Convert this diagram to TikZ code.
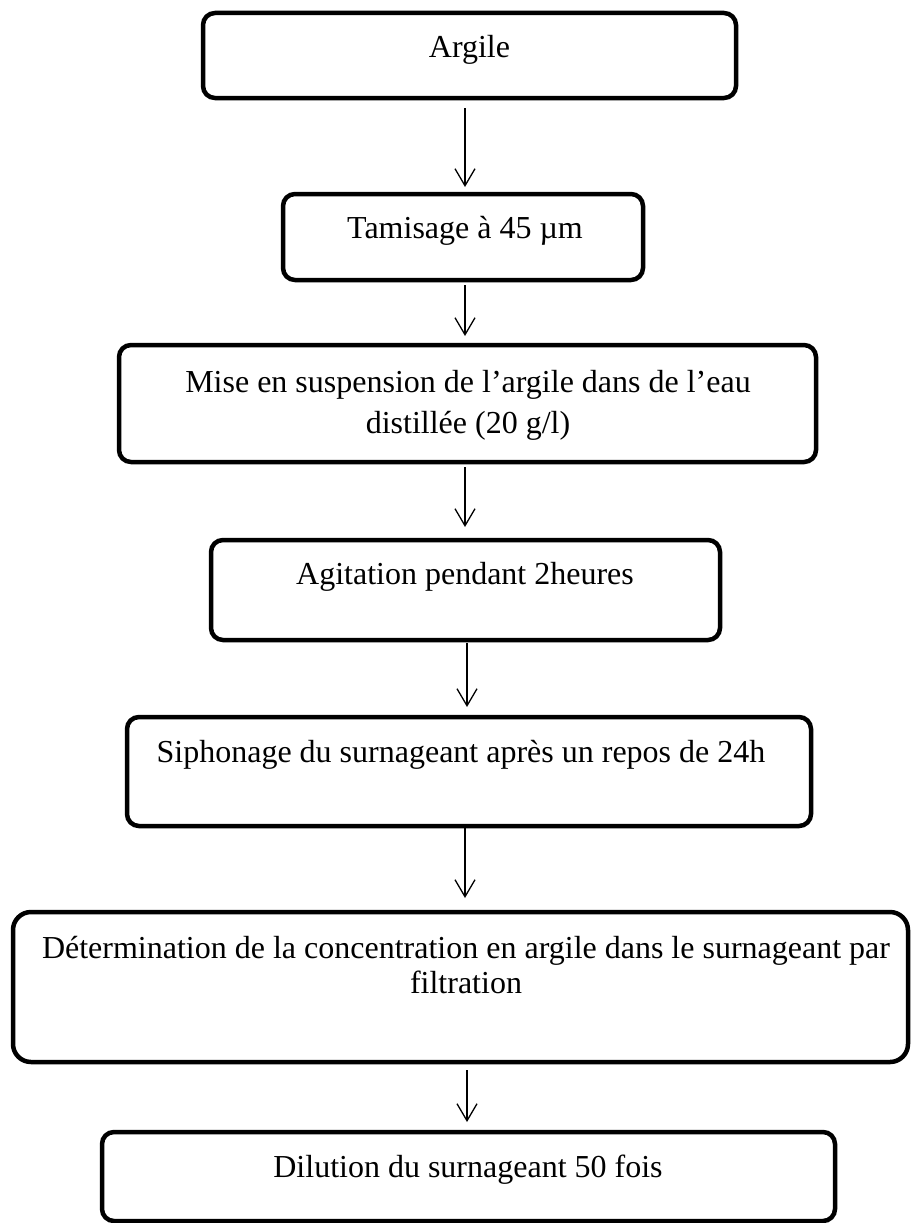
\documentclass[tikz,border=0pt]{standalone}
\usepackage{fontspec}
\setmainfont{Liberation Serif}
\usetikzlibrary{arrows.meta}
\begin{document}
\begin{tikzpicture}[x=1pt,y=-1pt,
  box/.style={draw=black,line width=4.5pt,rounded corners=12pt,inner sep=0pt,outer sep=0pt},
  lbl/.style={inner sep=0pt,anchor=base,align=center,font=\fontsize{32}{38}\selectfont},
  arr/.style={line width=1.3pt,-{Straight Barb[length=17pt,width=20pt]}}]
\useasboundingbox (0,0) rectangle (911,1223);
% boxes
\node[box,minimum width=533pt,minimum height=85pt] (b1) at (469.5,55.5) {};
\node[box,minimum width=360pt,minimum height=86pt] (b2) at (463,237) {};
\node[box,minimum width=697pt,minimum height=117pt] (b3) at (467.5,403.5) {};
\node[box,minimum width=509pt,minimum height=100pt] (b4) at (465.5,590) {};
\node[box,minimum width=684pt,minimum height=109pt] (b5) at (469,771.5) {};
\node[box,minimum width=895pt,minimum height=150pt,rounded corners=18pt] (b6) at (460.5,987) {};
\node[box,minimum width=733pt,minimum height=89pt] (b7) at (468.5,1176.5) {};
% texts
\node[lbl] (t1) at (469.5,58) {Argile};
\node[lbl] (t2) at (465,238) {Tamisage à 45 µm};
\node[lbl] (t3) at (468,433) {Mise en suspension de l’argile dans de l’eau\\[3pt] distillée (20 g/l)};
\node[lbl] (t4) at (465,584) {Agitation pendant 2heures};
\node[lbl] (t5) at (461,762) {Siphonage du surnageant après un repos de 24h};
\node[lbl] (t6) at (466,993) {Détermination de la concentration en argile dans le surnageant par\\[-3pt] filtration};
\node[lbl] (t7) at (468,1177) {Dilution du surnageant 50 fois};
% arrow column
\coordinate (c1) at (465,0);
\coordinate (c2) at (467,0);
\draw[arr,shorten <=10pt,shorten >=7pt] (b1.south -| c1) -- (b2.north -| c1);
\draw[arr,shorten <=5pt,shorten >=9pt] (b2.south -| c1) -- (b3.north -| c1);
\draw[arr,shorten <=5pt,shorten >=13pt] (b3.south -| c1) -- (b4.north -| c1);
\draw[arr,shorten <=3pt,shorten >=10pt] (b4.south -| c2) -- (b5.north -| c2);
\draw[arr,shorten <=0pt,shorten >=14pt] (b5.south -| c1) -- (b6.north -| c1);
\draw[arr,shorten <=8pt,shorten >=10pt] (b6.south -| c2) -- (b7.north -| c2);
\end{tikzpicture}
\end{document}
